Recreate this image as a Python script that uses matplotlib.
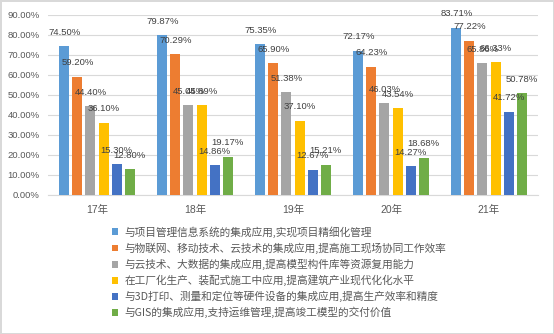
import matplotlib
matplotlib.use("Agg")
import matplotlib.pyplot as plt
import numpy as np

plt.rcParams['font.family'] = ['Liberation Sans', 'Noto Sans CJK SC', 'DejaVu Sans']

categories = ['17年', '18年', '19年', '20年', '21年']
series_names = [
    '与项目管理信息系统的集成应用,实现项目精细化管理',
    '与物联网、移动技术、云技术的集成应用,提高施工现场协同工作效率',
    '与云技术、大数据的集成应用,提高模型构件库等资源复用能力',
    '在工厂化生产、装配式施工中应用,提高建筑产业现代化化水平',
    '与3D打印、测量和定位等硬件设备的集成应用,提高生产效率和精度',
    '与GIS的集成应用,支持运维管理,提高竣工模型的交付价值',
]
values = [
    [74.50, 79.87, 75.35, 72.17, 83.71],
    [59.20, 70.29, 65.90, 64.23, 77.22],
    [44.40, 45.05, 51.38, 46.03, 65.86],
    [36.10, 44.89, 37.10, 43.54, 66.33],
    [15.30, 14.86, 12.67, 14.27, 41.72],
    [12.80, 19.17, 15.21, 18.68, 50.78],
]
colors = ['#5B9BD5', '#ED7D31', '#A5A5A5', '#FFC000', '#4472C4', '#70AD47']
yticks = [0, 10, 20, 30, 40, 50, 60, 70, 80, 90]

W, H = 554, 334
fig = plt.figure(figsize=(W / 100, H / 100), dpi=100)
fig.patch.set_facecolor('white')
fig.patch.set_edgecolor('#D9D9D9')
fig.patch.set_linewidth(1.0)

ax = fig.add_axes([48 / W, (H - 195) / H, 490 / W, 180 / H])
x = np.arange(len(categories))
bw = 0.102
pitch = 0.133
handles = []
for i, (name, vals, c) in enumerate(zip(series_names, values, colors)):
    pos = x + (i - 2.5) * pitch
    b = ax.bar(pos, vals, width=bw, color=c, label=name, zorder=3)
    handles.append(b)
    for px_, v in zip(pos, vals):
        ax.annotate(f'{v:.2f}%', (px_, v), xytext=(0, 10), textcoords='offset points',
                    ha='center', va='center', fontsize=6.8, color='#404040', zorder=5)

ax.set_xlim(-0.5, len(categories) - 0.5)
ax.set_ylim(0, 90)
ax.set_yticks(yticks)
ax.set_yticklabels([f'{t:.2f}%' for t in yticks], fontsize=6.8, color='#595959')
ax.set_xticks(x)
ax.set_xticklabels(categories, fontsize=7.5, color='#595959')
ax.tick_params(axis='both', length=0)
ax.tick_params(axis='x', pad=7)
ax.tick_params(axis='y', pad=6)
ax.grid(axis='y', color='#D9D9D9', linewidth=0.8, zorder=0)
for s in ['left', 'right', 'top']:
    ax.spines[s].set_visible(False)
ax.spines['bottom'].set_color('#D9D9D9')
ax.spines['bottom'].set_linewidth(0.8)

fig.legend(handles=handles, labels=series_names, loc='upper left',
           bbox_to_anchor=(112 / W, 1 - 226 / H), frameon=False,
           prop={'family': ['Noto Sans CJK SC', 'DejaVu Sans'], 'size': 7.7},
           labelcolor='#595959', handlelength=0.6, handleheight=0.6,
           handletextpad=0.55, labelspacing=0.45, borderaxespad=0, borderpad=0)

fig.savefig('out.png', dpi=100)
